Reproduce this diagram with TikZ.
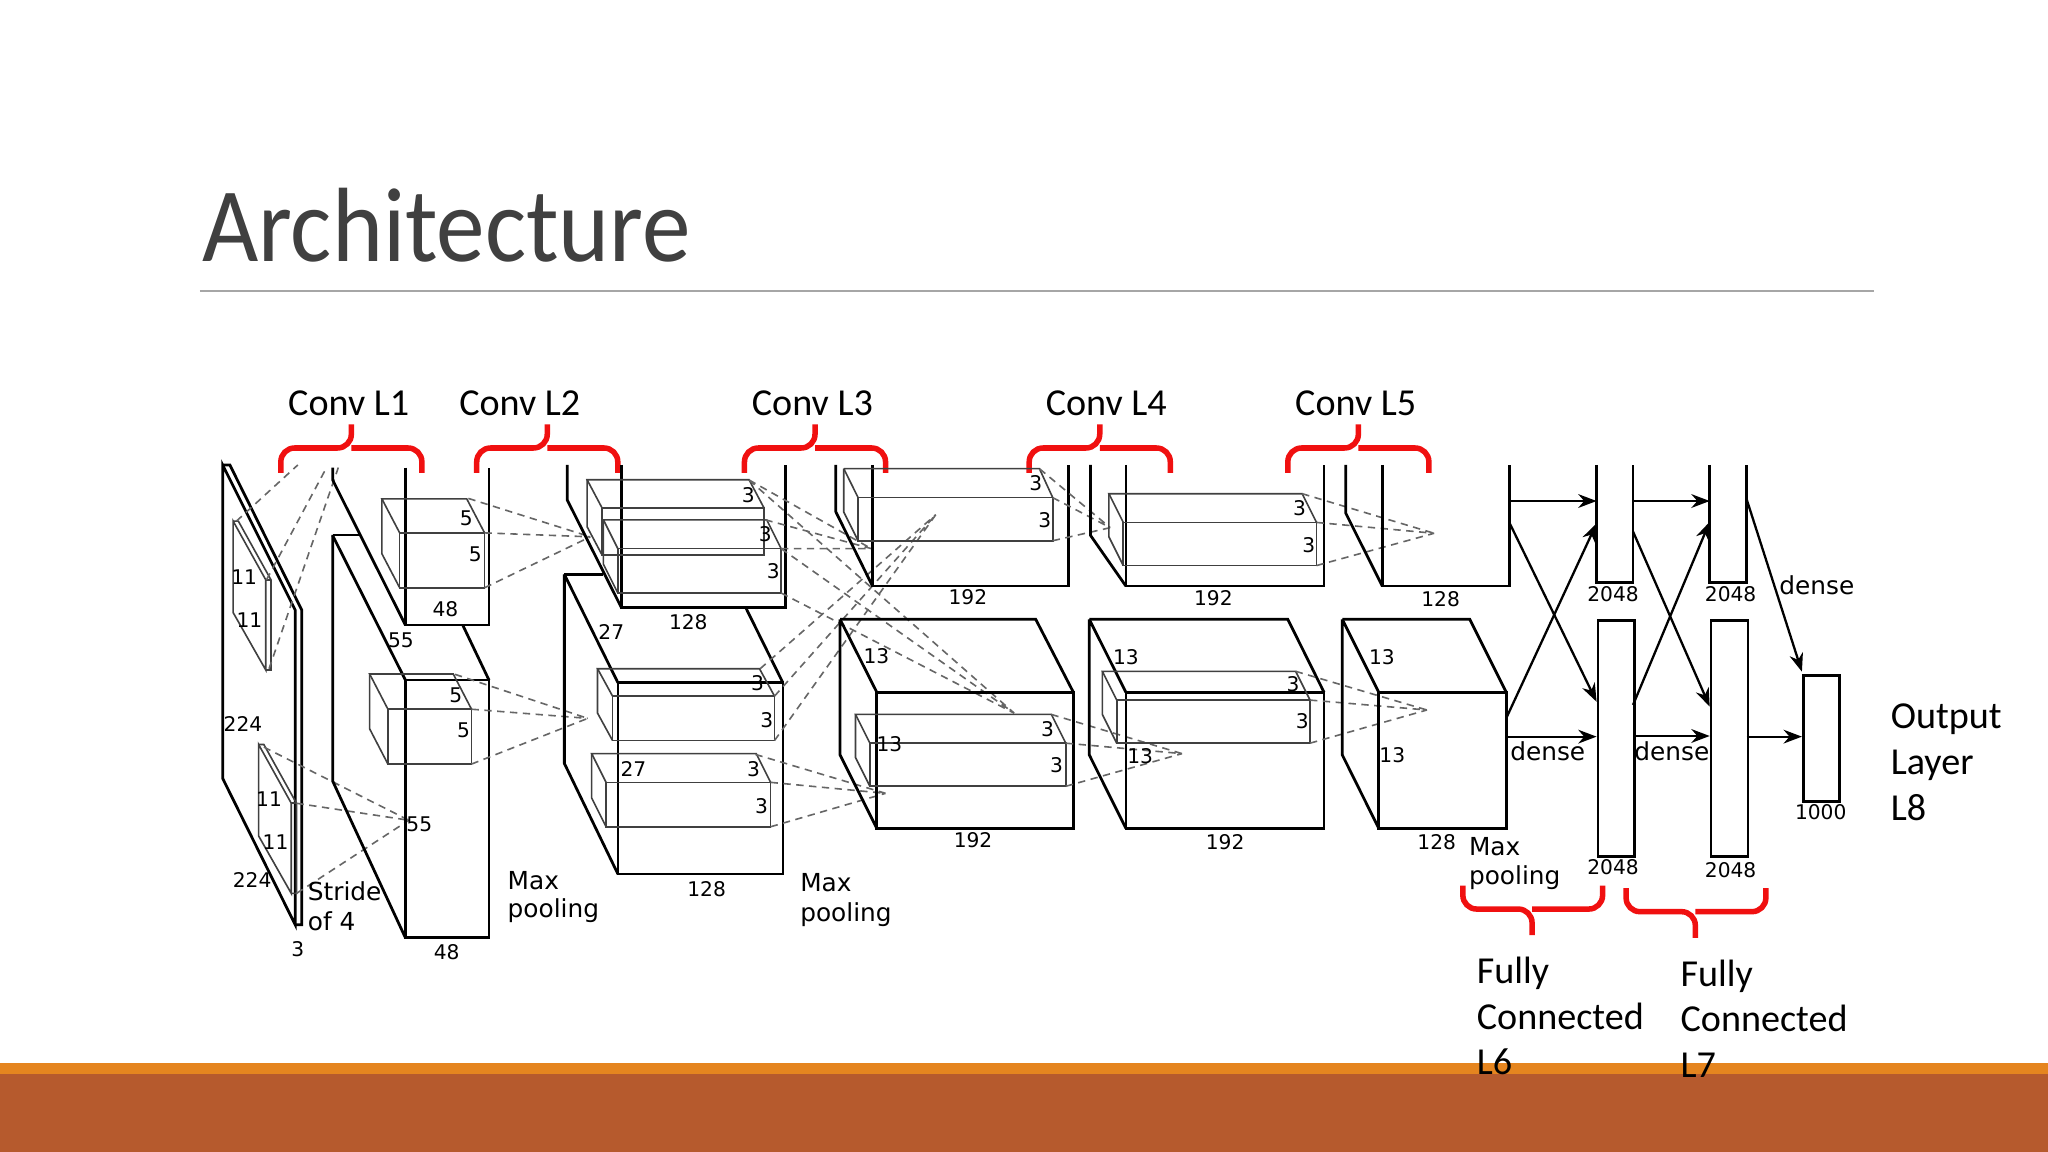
\documentclass[tikz,border=0pt]{standalone}
\usepackage{fontspec}
\usepackage{graphicx}
\setmainfont{Carlito}
\newfontfamily\djfont{DejaVu Sans}
\usetikzlibrary{arrows.meta}
\definecolor{titlegray}{HTML}{404040}
\definecolor{barorange}{HTML}{E5851F}
\definecolor{barbrown}{HTML}{B65A2D}
\definecolor{bracered}{HTML}{F01010}
\tikzset{
 blk/.style={line width=0.6pt,black},
 kern/.style={line width=0.35pt,black!75},
 dsh/.style={line width=0.35pt,black!60,dash pattern=on 1.6pt off 1.2pt},
 arr/.style={line width=0.5pt,-{Stealth[length=4pt,width=3pt]}},
 brc/.style={line width=1.2pt,bracered,rounded corners=3pt},
 sm/.style={font=\djfont\fontsize{4.4}{5}\selectfont,inner sep=0pt},
 md/.style={font=\djfont\fontsize{5.4}{6.5}\selectfont,inner sep=0pt},
 big/.style={font=\fontsize{8.3}{10}\selectfont,inner sep=0pt},
}
\newcommand\kbox[6]{% front x1 y1 x2 y2, depth dx dy
 \draw[kern] (#1,#2) rectangle (#3,#4);
 \draw[kern] (#1,#2)--(#1-#5,#2-#6)--(#3-#5,#2-#6)--(#3,#2);
 \draw[kern] (#1-#5,#2-#6)--(#1-#5,#4-#6)--(#1,#4);}
\newcommand\kslab[2]{% thin input kernel
 \draw[kern] (#1,#2)--(#1+25,#2+45)--(#1+25,#2+114)--(#1,#2+70)--cycle;
 \draw[kern] (#1,#2)--(#1+4,#2)--(#1+29,#2+45)--(#1+29,#2+114)--(#1+25,#2+114);
 \draw[kern] (#1+25,#2+45)--(#1+29,#2+45);}
\newcommand\lab[5][sm]{\node[#1] (#2) at (#3,#4) {#5};}
\begin{document}
\begin{tikzpicture}[x=0.01cm,y=-0.01cm]
\useasboundingbox (0,0) rectangle (1568,882);
\fill[white] (0,0) rectangle (1568,882);
% bottom bar
\fill[barorange] (0,814) rectangle (1568,823);
\fill[barbrown] (0,822) rectangle (1568,882);
% title
\node[anchor=base west,inner sep=0pt,font=\fontsize{23}{28}\selectfont,text=titlegray] (title) at (154,200) {\scalebox{0.92}[1]{Architecture}};
\draw[black!35,line width=0.5pt] (153,223) -- (1435,223);
% conv labels
\node[big,anchor=base] (c1) at (267,318) {Conv L1};
\node[big,anchor=base] (c2) at (398,318) {Conv L2};
\node[big,anchor=base] (c3) at (622,318) {Conv L3};
\node[big,anchor=base] (c4) at (847,318) {Conv L4};
\node[big,anchor=base] (c5) at (1038,318) {Conv L5};
% braces
\foreach \a/\m/\b in {215/269/323, 365/419/473, 570/624/678, 788/842/896, 986/1040/1094}{
 \draw[brc] (\a,362) |- (\m,343) -- (\m,325);
 \draw[brc] (\m,343) -| (\b,362);}
\draw[brc] (1120,678) |- (1173,696) -- (1173,716);
\draw[brc] (1173,696) -| (1227,678);
\draw[brc] (1245,680) |- (1298,698) -- (1298,718);
\draw[brc] (1298,698) -| (1352,680);
\node[big,anchor=base west,align=left] (f6a) at (1130,753) {Fully};
\node[big,anchor=base west] (f6b) at (1130,788) {Connected};
\node[big,anchor=base west] (f6c) at (1130,823) {L6};
\node[big,anchor=base west] (f7a) at (1286,755) {Fully};
\node[big,anchor=base west] (f7b) at (1286,790) {Connected};
\node[big,anchor=base west] (f7c) at (1286,825) {L7};
\node[big,anchor=base west] (o1) at (1447,558) {Output};
\node[big,anchor=base west] (o2) at (1447,593) {Layer};
\node[big,anchor=base west] (o3) at (1447,628) {L8};
% ---------- input
\draw[blk] (170.5,356)--(176,356)--(231,467)--(231,708)--(226,708);
\draw[blk] (170.5,356)--(226,467)--(226,708)--(170.5,596)--cycle;
\kslab{178.5}{399}
\kslab{198}{570}
\draw[dsh] (181,399)--(228,356);
\draw[dsh] (204,444)--(250,358);
\draw[dsh] (206,512)--(259,358);
\draw[dsh] (202,572)--(313,628);
\draw[dsh] (227,615)--(313,628);
\draw[dsh] (227,684)--(313,628);
% ---------- layer 1
\draw[blk] (254.7,358)--(254.7,367.5)--(310.4,478.6);
\draw[blk] (310.4,358)--(310.4,478.6)--(374.4,478.6)--(374.4,358);
\draw[blk] (254.7,409.6)--(275.6,409.6);
\draw[blk] (254.7,409.6)--(254.7,598)--(310.4,718);
\draw[blk] (254.7,410)--(310.4,520.7);
\draw[blk] (310.4,520.7) rectangle (374.4,718);
\draw[blk] (354.3,478.6)--(374.4,520.7);
\kbox{306}{408}{371}{450}{13.6}{26}
\kbox{297}{543}{361}{585}{14}{27}
\draw[dsh] (358.6,381.6)--(452,411) (371,408)--(452,411) (371,450)--(452,411);
\draw[dsh] (348.4,516.3)--(450,550) (361,543)--(450,550) (361,585)--(450,550);
% ---------- layer 2
\draw[blk] (434.3,356)--(434.3,382.8)--(475.8,465.3);
\draw[blk] (475.8,356)--(475.8,465.3)--(601.6,465.3)--(601.6,356);
\draw[blk] (432.1,439.8)--(462,439.8);
\draw[blk] (432.1,439.8)--(432.1,584.5)--(473.1,669.2);
\draw[blk] (432.1,439.8)--(473.1,522.7);
\draw[blk] (473.1,522.7) rectangle (599.4,669.2);
\draw[blk] (571,465.3)--(599.4,522.7);
\kbox{461}{389}{585}{425}{11.5}{21.7}
\kbox{473}{420}{598}{454}{11}{22}
\kbox{469}{533}{593}{567}{11.5}{21}
\kbox{464}{599}{590}{633}{11}{22}
% to layer 3
\draw[dsh] (573.5,367.5)--(667,420) (586,398)--(667,420) (598,420)--(667,420);
\draw[dsh] (573.5,367.5)--(776.5,546) (598,420)--(776.5,546) (598,454)--(776.5,546);
\draw[dsh] (582,512)--(716.5,394) (593,533)--(716.5,394) (593,567)--(716.5,394);
\draw[dsh] (578.4,577.6)--(678,607.4) (590,599)--(678,607.4) (590,633)--(678,607.4);
% ---------- layer 3
\draw[blk] (639.9,356)--(639.9,391.8)--(668,448.7);
\draw[blk] (668,356)--(668,448.7)--(818.2,448.7)--(818.2,356);
\draw[kern] (646,358.8)--(646,392)--(657,414);
\draw[kern] (657,381) rectangle (806,414);
\draw[kern] (646,358.8)--(795.8,358.8)--(806,381) (646,358.8)--(657,381);
\draw[blk] (643.2,474.2)--(793,474.2)--(821.8,530);
\draw[blk] (643.2,474.2)--(671.3,530) (643.2,474.2)--(643.2,578)--(671.3,634.2);
\draw[blk] (671.3,530) rectangle (821.8,634.2);
\kbox{666}{569}{816}{602}{11}{22}
\draw[dsh] (796,359)--(850,404) (806,381)--(850,404) (806,414)--(850,404);
\draw[dsh] (805,547)--(905,577) (816,569)--(905,577) (816,602)--(905,577);
% ---------- layer 4
\draw[blk] (835,356)--(835,410)--(862,448.7);
\draw[blk] (862,356)--(862,448.7)--(1013.7,448.7)--(1013.7,356);
\kbox{860}{400}{1008}{433}{11}{22}
\draw[blk] (834,474.2)--(986,474.2)--(1013.7,530);
\draw[blk] (834,474.2)--(862,530) (834,474.2)--(834,578)--(862,634.2);
\draw[blk] (862,530) rectangle (1013.7,634.2);
\kbox{855}{536}{1003}{569}{11}{22}
\draw[dsh] (997,378)--(1098,408.3) (1008,400)--(1098,408.3) (1008,433)--(1098,408.3);
\draw[dsh] (992,514)--(1092.5,543.6) (1003,536)--(1092.5,543.6) (1003,569)--(1092.5,543.6);
% ---------- layer 5
\draw[blk] (1030.4,356)--(1030.4,393)--(1058.3,448.7);
\draw[blk] (1058.3,356)--(1058.3,448.7)--(1155.9,448.7)--(1155.9,356);
\draw[blk] (1027.7,474.2)--(1125.3,474.2)--(1153.2,530);
\draw[blk] (1027.7,474.2)--(1055.6,530) (1027.7,474.2)--(1027.7,578)--(1055.6,634.2);
\draw[blk] (1055.6,530) rectangle (1153.2,634.2);
% ---------- FC
\draw[blk] (1222.4,356)--(1222.4,446.2)--(1250.3,446.2)--(1250.3,356);
\draw[blk] (1309,356)--(1309,446.2)--(1337.2,446.2)--(1337.2,356);
\node[blk,draw,minimum width=0.279cm,minimum height=1.807cm,inner sep=0pt,anchor=north west] (fc6) at (1222.4,474) {};
\node[blk,draw,minimum width=0.282cm,minimum height=1.807cm,inner sep=0pt,anchor=north west] (fc7) at (1309,474) {};
\node[blk,draw,minimum width=0.279cm,minimum height=0.966cm,inner sep=0pt,anchor=north west] (out) at (1379.6,516) {};
\coordinate (t5a) at (1155.9,383.6); \coordinate (t6a) at (1222.4,383.6);
\coordinate (t6b) at (1250.3,383.6); \coordinate (t7a) at (1309,383.6);
\draw[arr] (t5a)--(t6a);
\draw[arr] (t6b)--(t7a);
\coordinate (s1) at (1155.9,400.7); \coordinate (e1) at (1222.4,537.3);
\coordinate (s2) at (1153.2,549.9); \coordinate (e2) at (1222.4,400.7);
\draw[arr] (s1)--(e1);
\draw[arr] (s2)--(e2);
\coordinate (s3) at (1153.2,564); \coordinate (e3) at (1222.4,564);
\draw[arr] (s3)--(e3);
\coordinate (s4) at (1250.3,407); \coordinate (e4) at (1309,541);
\coordinate (s5) at (1250.3,539.7); \coordinate (e5) at (1309,399.5);
\draw[arr] (s4)--(e4);
\draw[arr] (s5)--(e5);
\coordinate (s6) at (1250.3,563.5); \coordinate (e6) at (1309,563.5);
\draw[arr] (s6)--(e6);
\coordinate (s7) at (1337.2,382); \coordinate (e7) at (1379.6,514.3);
\draw[arr] (s7)--(e7);
\coordinate (s8) at (1337.2,564); \coordinate (e8) at (1379.6,564);
\draw[arr] (s8)--(e8);
% ---------- labels
\lab{a1}{187}{442}{11} \lab{a2}{191}{475}{11} \lab{a3}{186}{554}{224}
\lab{a4}{206}{612}{11} \lab{a5}{211}{645}{11} \lab{a6}{193}{674}{224}
\lab{a7}{228}{727}{3}
\node[md,anchor=west] (st1) at (235,682) {Stride};
\node[md,anchor=west] (st2) at (235,705) {of 4};
\lab{b1}{357}{397}{5} \lab{b2}{364}{424}{5} \lab{b3}{341}{466}{48}
\lab{b4}{307}{490}{55} \lab{b5}{349}{532}{5} \lab{b6}{355}{559}{5}
\lab{b7}{321}{631}{55} \lab{b8}{342}{729}{48}
\node[md,anchor=west] (mp1) at (388,674) {Max};
\node[md,anchor=west] (mp2) at (388,697) {pooling};
\lab{d1}{573}{379}{3} \lab{d2}{586}{409}{3} \lab{d3}{592}{437}{3}
\lab{d4}{468}{484}{27} \lab{d5}{527}{476}{128} \lab{d6}{580}{523}{3}
\lab{d7}{587}{551}{3} \lab{d8}{485}{589}{27} \lab{d9}{577}{589}{3}
\lab{d10}{583}{617}{3} \lab{d11}{541}{681}{128}
\node[md,anchor=west] (mp3) at (612,676) {Max};
\node[md,anchor=west] (mp4) at (612,700) {pooling};
\lab{e11}{793}{370}{3} \lab{e12}{800}{398}{3} \lab{e13}{741}{457}{192}
\lab{e14}{671}{502}{13} \lab{e15}{681}{570}{13} \lab{e16}{802}{558}{3}
\lab{e17}{809}{586}{3} \lab{e18}{745}{643}{192}
\lab{g1}{995}{389}{3} \lab{g2}{1002}{417}{3} \lab{g3}{929}{458}{192}
\lab{g4}{862}{503}{13} \lab{g5}{990}{524}{3} \lab{g6}{997}{552}{3}
\lab{g7}{873}{579}{13} \lab{g8}{938}{645}{192}
\lab{h1}{1103}{459}{128} \lab{h2}{1058}{503}{13} \lab{h3}{1066}{578}{13}
\lab{h4}{1100}{645}{128}
\node[md,anchor=west] (mp5) at (1124,648) {Max};
\node[md,anchor=west] (mp6) at (1124,672) {pooling};
\lab{k1}{1235}{455}{2048} \lab{k2}{1325}{455}{2048}
\lab{k3}{1235}{664}{2048} \lab{k4}{1325}{666}{2048} \lab{k5}{1394}{622}{1000}
\lab[md]{dn1}{1391}{448}{dense} \lab[md]{dn2}{1185}{575}{dense} \lab[md]{dn3}{1280}{575}{dense}
\end{tikzpicture}
\end{document}
